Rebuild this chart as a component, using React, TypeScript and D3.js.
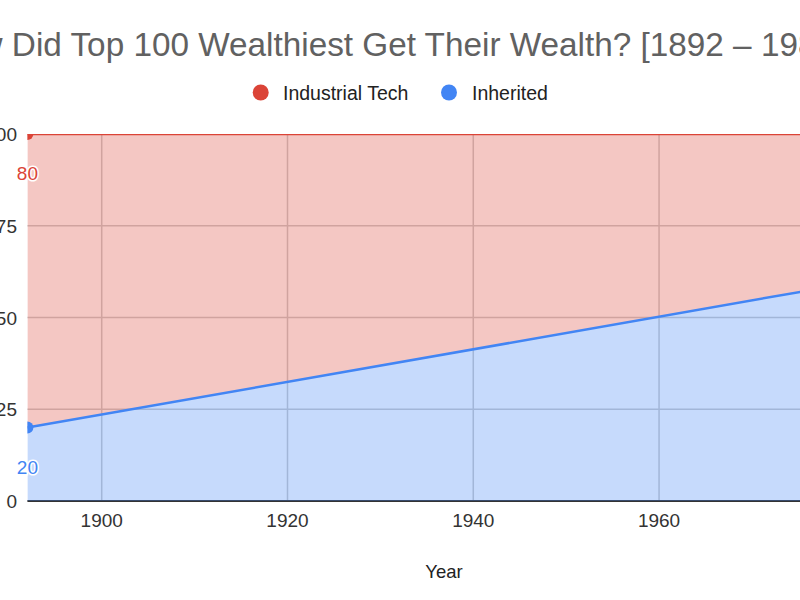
import React from "react";
import * as d3 from "d3";

const years = [1892, 1982];
const inherited = [20, 60];
const industrialTech = [80, 40];
const seriesNames = ["Industrial Tech", "Inherited"];
const yTicks = [0, 25, 50, 75, 100];
const xTicks = [1900, 1920, 1940, 1960, 1980];
const titleText = "How Did Top 100 Wealthiest Get Their Wealth? [1892 – 1982]";

const RED = "#db4437";
const BLUE = "#4285f4";
const FONT = "'Liberation Sans', Arial, sans-serif";

export default function App() {
  const W = 800, H = 600;
  const x = d3.scaleLinear().domain([1892, 1982]).range([27.4, 863.4]);
  const y = d3.scaleLinear().domain([0, 100]).range([501, 134]);

  const rows = years.map((yr, i) => ({ year: yr, inherited: inherited[i], industrialTech: industrialTech[i] }));
  const stacked = d3.stack<any>().keys(["inherited", "industrialTech"])(rows);

  const area = d3.area<any>().x((d) => x(d.data.year)).y0((d) => y(d[0])).y1((d) => y(d[1]));
  const line = d3.line<any>().x((d) => x(d.data.year)).y((d) => y(d[1]));
  const colors = [BLUE, RED];

  const [x0, x1] = x.range();
  const [yb, yt] = y.range();

  return (
    <div style={{ position: "absolute", left: 0, top: 0, width: W, height: H, overflow: "hidden", background: "#fff" }}>
      <svg width={W} height={H} style={{ display: "block", fontFamily: FONT }}>
        <defs>
          <clipPath id="plot">
            <rect x={x0} y={yt} width={x1 - x0} height={yb - yt} />
          </clipPath>
        </defs>
        <text x={-64} y={56} fontSize={33.3} fill="#616161">{titleText}</text>

        {/* legend */}
        <circle cx={260.7} cy={92.5} r={8} fill={RED} />
        <text x={283} y={99.5} fontSize={19.5} fill="#222">{seriesNames[0]}</text>
        <circle cx={449} cy={92.5} r={8} fill={BLUE} />
        <text x={472} y={99.5} fontSize={19.5} fill="#222">{seriesNames[1]}</text>

        {/* gridlines */}
        {yTicks.filter((t) => t > 0 && t < 100).map((t) => (
          <line key={"gy" + t} x1={x0} x2={x1} y1={y(t)} y2={y(t)} stroke="#cccccc" strokeWidth={1.5} />
        ))}
        {xTicks.map((t) => (
          <line key={"gx" + t} x1={x(t)} x2={x(t)} y1={yt} y2={yb} stroke="#cccccc" strokeWidth={1.5} />
        ))}
        <line x1={x0} x2={x1} y1={yb} y2={yb} stroke="#333" strokeWidth={2} />

        <g clipPath="url(#plot)">
          {stacked.map((s, i) => (
            <path key={"a" + i} d={area(s as any) || ""} fill={colors[i]} fillOpacity={0.3} />
          ))}
          {stacked.map((s, i) => (
            <path key={"l" + i} d={line(s as any) || ""} fill="none" stroke={colors[i]} strokeWidth={2.5} />
          ))}
          {stacked.map((s, i) =>
            s.map((d: any, j: number) => (
              <circle key={"p" + i + j} cx={x(d.data.year)} cy={y(d[1])} r={6} fill={colors[i]} />
            ))
          )}
        </g>

        {/* data labels */}
        {stacked.map((s, i) =>
          s.map((d: any, j: number) => (
            <text key={"dl" + i + j} x={x(d.data.year)} y={y(d[1]) + 46} textAnchor="middle" fontSize={19}
              fill={colors[i]} stroke="#fff" strokeWidth={3} paintOrder="stroke">
              {d[1] - d[0]}
            </text>
          ))
        )}

        {/* y ticks */}
        {yTicks.map((t) => (
          <text key={"yt" + t} x={17} y={y(t) + 7} textAnchor="end" fontSize={19} fill="#333">{t}</text>
        ))}
        {/* x ticks */}
        {xTicks.map((t) => (
          <text key={"xt" + t} x={x(t)} y={527} textAnchor="middle" fontSize={19} fill="#333">{t}</text>
        ))}
        <text x={444} y={578} textAnchor="middle" fontSize={18.5} fill="#222">Year</text>
      </svg>
    </div>
  );
}
